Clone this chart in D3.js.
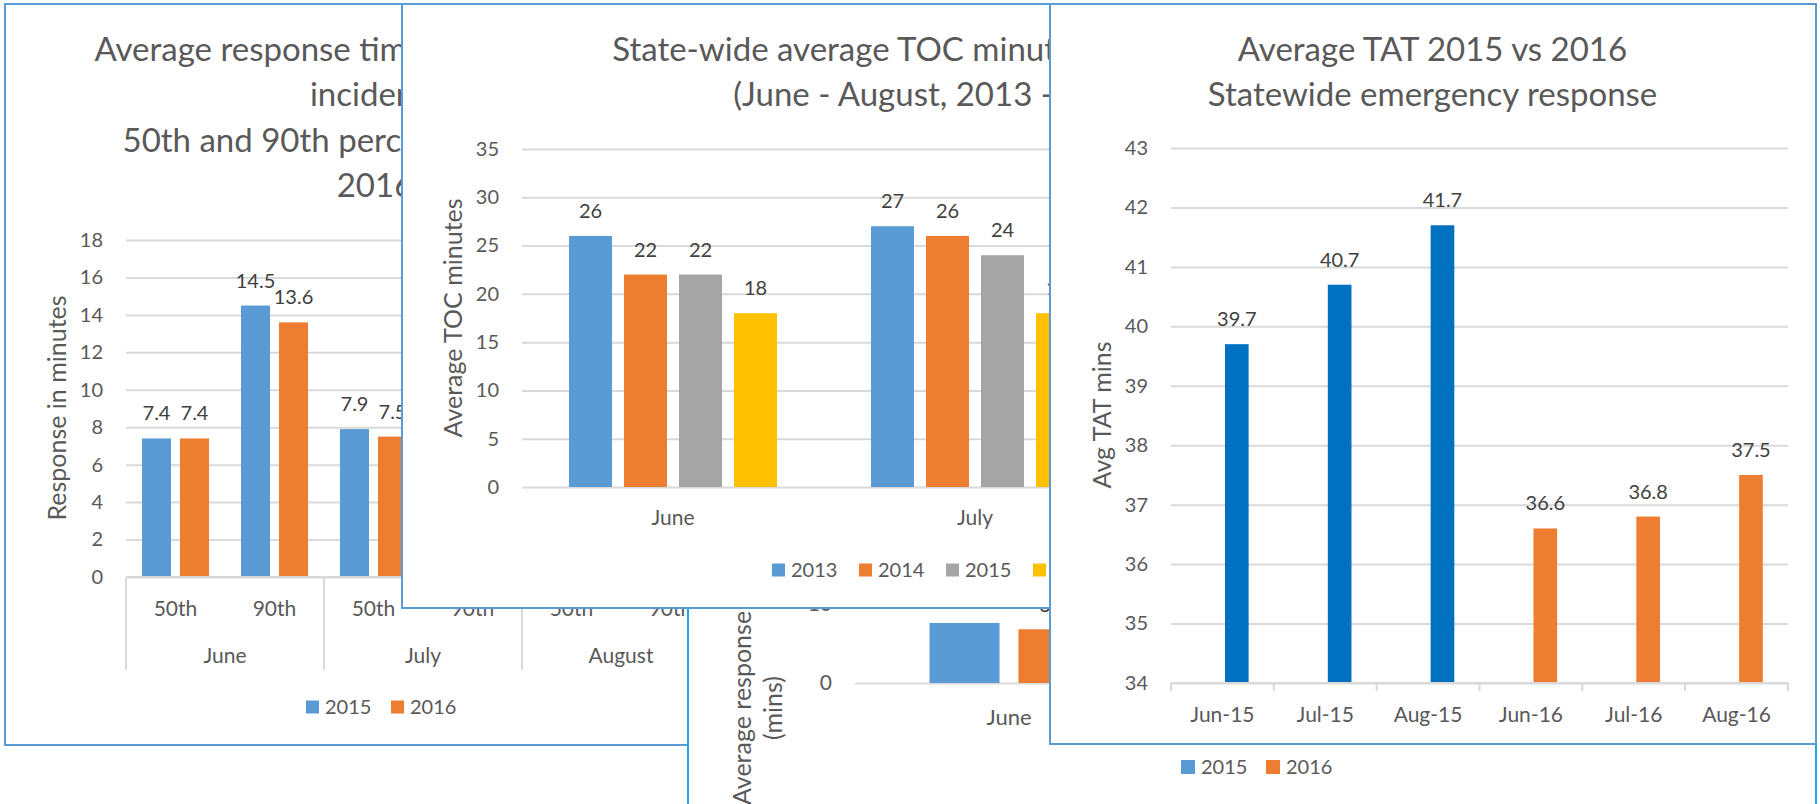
<!DOCTYPE html>
<meta charset="utf-8">
<style>
	body { margin: 0; background: #fff; }
	svg text { font-family: Lato, "Open Sans", sans-serif; fill: #595959; }
	.grid line { stroke: #d9d9d9; stroke-width: 2; }
	.grid .domain { display: none; }
	.frame { fill: #fff; stroke: #5b9bd5; stroke-width: 2; }
	.title { font-size: 33px; }
	.val { fill: #404040; }
	.axisline { stroke: #d9d9d9; stroke-width: 2; }
</style>
<body>
<script src="https://d3js.org/d3.v7.min.js"></script>
<script>
// left chart - response time percentiles (july 90th and august are hidden, estimated)
var respMonths = ["June", "July", "August"];
var respPct = ["50th", "90th"];
var respYears = ["2015", "2016"];
var resp2015 = [7.4, 14.5, 7.9, 15.2, 7.8, 14.9];
var resp2016 = [7.4, 13.6, 7.5, 14.3, 7.6, 14.1];
var respTicks = [0, 2, 4, 6, 8, 10, 12, 14, 16, 18];

// middle chart - TOC minutes
var tocMonths = ["June", "July", "August"];
var tocYears = ["2013", "2014", "2015", "2016"];
var toc2013 = [26, 27, 26];
var toc2014 = [22, 26, 25];
var toc2015 = [22, 24, 23];
var toc2016 = [18, 18, 19];
var tocTicks = [0, 5, 10, 15, 20, 25, 30, 35];

// chart underneath - average response (mins), mostly covered
var avgMonths = ["June", "July", "August"];
var avgYears = ["2015", "2016"];
var avg2015 = [7.6, 8.0, 7.9];
var avg2016 = [6.8, 7.2, 7.3];
var avgTicks = [0, 10, 20];

// right chart - TAT
var tatCats = ["Jun-15", "Jul-15", "Aug-15", "Jun-16", "Jul-16", "Aug-16"];
var tatVals = [39.7, 40.7, 41.7, 36.6, 36.8, 37.5];
var tatYear = ["2015", "2015", "2015", "2016", "2016", "2016"];
var tatTicks = [34, 35, 36, 37, 38, 39, 40, 41, 42, 43];

var col = {blue: "#5b9bd5", orange: "#ed7d31", gray: "#a5a5a5", yellow: "#ffc000", navy: "#0070c0"};

(function(){
	var svg = d3.select("body").append("svg")
		.attr("width", 1820)
		.attr("height", 804);

	function frame(x, y, w, h, stroke) {
		var g = svg.append("g");
		g.append("rect")
		 .attr("class", "frame")
		 .attr("x", x).attr("y", y)
		 .attr("width", w).attr("height", h)
		 .style("stroke", stroke || null);
		return g;
	}

	function titleLines(g, lines, cx, y0) {
		g.selectAll(null)
		 .data(lines)
		 .enter()
		 .append("text")
		 .attr("class", "title")
		 .attr("x", cx)
		 .attr("y", function(d, i) { return y0 + i * 45.5; })
		 .attr("dy", ".35em")
		 .attr("text-anchor", "middle")
		 .text(function(d) { return d; });
	}

	function grid(g, y, ticks, x0, x1, size) {
		var ax = g.append("g")
			.attr("class", "grid")
			.attr("transform", "translate(" + x0 + ",0)")
			.call(d3.axisLeft(y).tickValues(ticks).tickSize(-(x1 - x0)).tickPadding(23));
		ax.selectAll("text").style("font-size", size);
	}

	function yTitle(g, lines, x, y, size, gap) {
		g.selectAll(null)
		 .data(lines)
		 .enter()
		 .append("text")
		 .attr("transform", function(d, i) { return "translate(" + (x + i * (gap || 0)) + "," + y + ") rotate(-90)"; })
		 .attr("text-anchor", "middle")
		 .attr("dy", ".35em")
		 .style("font-size", size)
		 .text(function(d) { return d; });
	}

	function legend(g, items, x0, step, y, sq, size) {
		var it = g.selectAll(null)
			.data(items)
			.enter()
			.append("g")
			.attr("transform", function(d, i) { return "translate(" + (x0 + i * step) + "," + y + ")"; });
		it.append("rect")
		  .attr("y", -sq / 2).attr("width", sq).attr("height", sq)
		  .attr("fill", function(d) { return d.color; });
		it.append("text")
		  .attr("x", sq + 6)
		  .attr("dy", ".35em")
		  .style("font-size", size)
		  .text(function(d) { return d.key; });
	}

	// bars + value labels for grouped charts
	function groups(g, series, cats, x, xi, y, size, fmt) {
		series.forEach(function(s) {
			g.selectAll(null)
			 .data(s.vals)
			 .enter()
			 .append("rect")
			 .attr("x", function(d, i) { return x(cats[i]) + xi(s.key); })
			 .attr("y", function(d) { return y(d); })
			 .attr("width", xi.bandwidth())
			 .attr("height", function(d) { return y.range()[0] - y(d); })
			 .attr("fill", s.color);
			g.selectAll(null)
			 .data(s.vals)
			 .enter()
			 .append("text")
			 .attr("class", "val")
			 .attr("x", function(d, i) { return x(cats[i]) + xi(s.key) + xi.bandwidth() / 2; })
			 .attr("y", function(d) { return y(d) - 25; })
			 .attr("dy", ".35em")
			 .attr("text-anchor", "middle")
			 .style("font-size", size)
			 .text(fmt);
		});
	}

	function catLabels(g, cats, x, y, size) {
		g.selectAll(null)
		 .data(cats)
		 .enter()
		 .append("text")
		 .attr("x", function(d) { return x(d) + x.bandwidth() / 2; })
		 .attr("y", y).attr("dy", ".35em")
		 .attr("text-anchor", "middle")
		 .style("font-size", size)
		 .text(function(d) { return d; });
	}

	/* ---- left: response percentiles ---- */
	var p1 = frame(5, 4, 740, 741);
	titleLines(p1, ["Average response times for emergency", "incidents", "50th and 90th percentiles, 2015 vs", "2016"], 375, 49);
	var y1 = d3.scaleLinear().domain([0, 18]).range([577, 240]);
	grid(p1, y1, respTicks, 126, 720, "20px");
	var respCats = d3.cross(respMonths, respPct).map(function(d) { return d.join(" "); });
	var x1 = d3.scaleBand().domain(respCats).range([126, 720]);
	var x1i = d3.scaleBand().domain(respYears).range([0, x1.bandwidth()]).paddingInner(0.237).paddingOuter(0.421);
	groups(p1, [{key: "2015", vals: resp2015, color: col.blue}, {key: "2016", vals: resp2016, color: col.orange}],
		respCats, x1, x1i, y1, "20px", function(d) { return d.toFixed(1); });
	var m1 = d3.scaleBand().domain(respMonths).range([126, 720]);
	p1.append("line").attr("class", "axisline")
	  .attr("x1", 126).attr("x2", 720).attr("y1", y1(0)).attr("y2", y1(0));
	p1.selectAll(null)
	  .data(respMonths.map(function(m) { return m1(m); }).concat([m1.range()[1]]))
	  .enter()
	  .append("line").attr("class", "axisline")
	  .attr("x1", function(d) { return d; }).attr("x2", function(d) { return d; })
	  .attr("y1", y1(0)).attr("y2", 670);
	p1.selectAll(null)
	  .data(respCats)
	  .enter()
	  .append("text")
	  .attr("x", function(d) { return x1(d) + x1.bandwidth() / 2; })
	  .attr("y", 609).attr("dy", ".35em")
	  .attr("text-anchor", "middle")
	  .style("font-size", "21px")
	  .text(function(d) { return d.split(" ")[1]; });
	catLabels(p1, respMonths, m1, 656, "21px");
	yTitle(p1, ["Response in minutes"], 57, 408, "25px");
	legend(p1, [{key: "2015", color: col.blue}, {key: "2016", color: col.orange}], 306, 85, 707, 13, "20px");

	/* ---- underneath: average response mins ---- */
	var p4 = frame(688, 250, 1128, 600, "#1fa3e8");
	var y4 = d3.scaleLinear().domain([0, 20]).range([683, 525]);
	grid(p4, y4, avgTicks, 855, 1779, "21px");
	var x4 = d3.scaleBand().domain(avgMonths).range([855, 1779]);
	var x4i = d3.scaleBand().domain(avgYears).range([0, x4.bandwidth()]).paddingInner(0.213).paddingOuter(0.837);
	groups(p4, [{key: "2015", vals: avg2015, color: col.blue}, {key: "2016", vals: avg2016, color: col.orange}],
		avgMonths, x4, x4i, y4, "21px", function(d) { return d.toFixed(1); });
	catLabels(p4, avgMonths, x4, 717, "22px");
	yTitle(p4, ["Average response", "(mins)"], 742, 708, "25px", 31);
	legend(p4, [{key: "2015", color: col.blue}, {key: "2016", color: col.orange}], 1181, 85, 767, 14, "20px");

	/* ---- middle: TOC minutes ---- */
	var p2 = frame(402, 4, 1088, 604);
	titleLines(p2, ["State-wide average TOC minutes per incident", "(June - August, 2013 - 2016)"], 940, 49);
	var y2 = d3.scaleLinear().domain([0, 35]).range([487, 149]);
	grid(p2, y2, tocTicks, 522, 1428, "20px");
	var x2 = d3.scaleBand().domain(tocMonths).range([522, 1428]);
	var x2i = d3.scaleBand().domain(tocYears).range([0, x2.bandwidth()]).paddingInner(0.218).paddingOuter(0.854);
	var tocSeries = [
		{key: "2013", vals: toc2013, color: col.blue},
		{key: "2014", vals: toc2014, color: col.orange},
		{key: "2015", vals: toc2015, color: col.gray},
		{key: "2016", vals: toc2016, color: col.yellow}
	];
	groups(p2, tocSeries, tocMonths, x2, x2i, y2, "20px", function(d) { return d; });
	catLabels(p2, tocMonths, x2, 518, "21px");
	yTitle(p2, ["Average TOC minutes"], 453, 318, "25px");
	legend(p2, tocSeries, 772, 87, 570, 13, "20px");

	/* ---- right: TAT ---- */
	var p3 = frame(1050, 4, 766, 740);
	titleLines(p3, ["Average TAT 2015 vs 2016", "Statewide emergency response"], 1432.5, 49);
	var y3 = d3.scaleLinear().domain([34, 43]).range([683, 148]);
	grid(p3, y3, tatTicks, 1171, 1788, "20px");
	var x3 = d3.scaleBand().domain(tatCats).range([1171, 1788]);
	var bw = x3.bandwidth();
	p3.selectAll(null)
	  .data(tatVals)
	  .enter()
	  .append("rect")
	  .attr("x", function(d, i) { return x3(tatCats[i]) + bw * 0.525; })
	  .attr("y", function(d) { return y3(d); })
	  .attr("width", bw * 0.23)
	  .attr("height", function(d) { return y3(34) - y3(d); })
	  .attr("fill", function(d, i) { return tatYear[i] == "2015" ? col.navy : col.orange; });
	p3.selectAll(null)
	  .data(tatVals)
	  .enter()
	  .append("text")
	  .attr("class", "val")
	  .attr("x", function(d, i) { return x3(tatCats[i]) + bw * 0.64; })
	  .attr("y", function(d) { return y3(d) - 25; })
	  .attr("dy", ".35em")
	  .attr("text-anchor", "middle")
	  .style("font-size", "20px")
	  .text(function(d) { return d.toFixed(1); });
	p3.append("line").attr("class", "axisline")
	  .attr("x1", 1171).attr("x2", 1788).attr("y1", y3(34)).attr("y2", y3(34));
	p3.selectAll(null)
	  .data(tatCats.map(function(c) { return x3(c); }).concat([x3.range()[1]]))
	  .enter()
	  .append("line").attr("class", "axisline")
	  .attr("x1", function(d) { return d; }).attr("x2", function(d) { return d; })
	  .attr("y1", y3(34)).attr("y2", y3(34) + 8);
	catLabels(p3, tatCats, x3, 715, "21px");
	yTitle(p3, ["Avg TAT mins"], 1102, 415, "25px");
})();
</script>
